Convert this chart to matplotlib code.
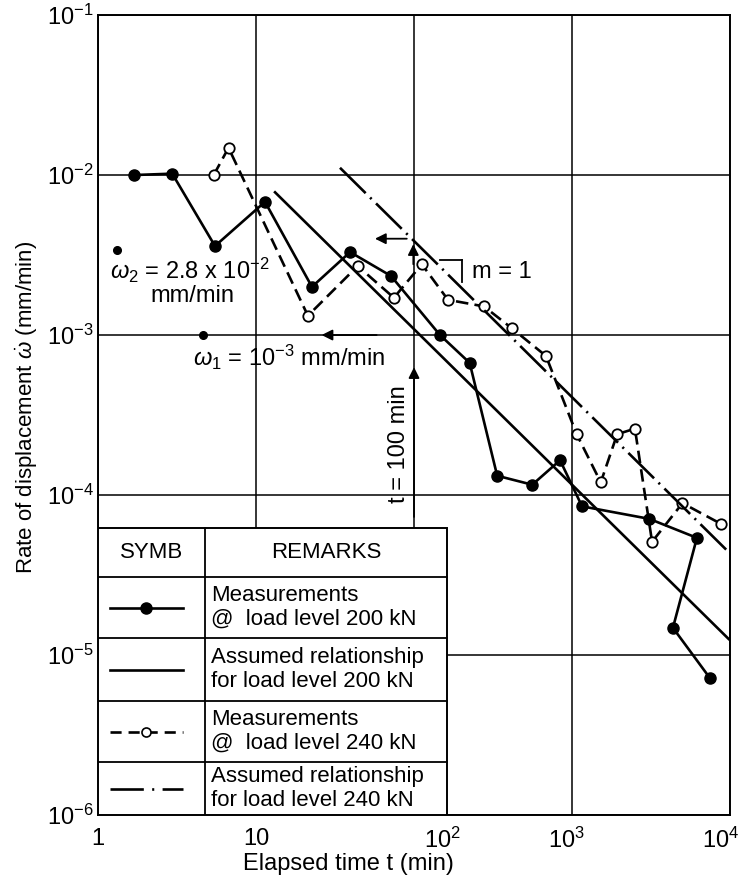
import matplotlib
matplotlib.use("Agg")
import matplotlib.pyplot as plt
import matplotlib.transforms as mtransforms
from matplotlib.patches import Rectangle

plt.rcParams['font.family'] = ['Liberation Sans', 'DejaVu Sans']
plt.rcParams['mathtext.fontset'] = 'custom'
plt.rcParams['mathtext.rm'] = 'Liberation Sans'
plt.rcParams['mathtext.it'] = 'Liberation Sans:italic'
plt.rcParams['lines.scale_dashes'] = False

# measurements @ 200 kN (filled dots)
t_200 = [1.7, 2.95, 5.5, 11.4, 22.6, 39.4, 71.5, 146, 225, 336, 560, 840, 1157, 3080, 6170, 4350, 7440]
r_200 = [0.0100, 0.0102, 0.0036, 0.0068, 0.0020, 0.0033, 0.00234, 0.00100, 0.00067, 0.000132,
         0.000116, 0.000165, 0.000085, 0.000071, 0.000054, 0.0000148, 0.0000072]

# measurements @ 240 kN (open circles)
t_240 = [5.4, 6.7, 21.3, 44, 74.6, 112, 164, 277, 417, 684, 1070, 1520, 1930, 2500, 3210, 5000, 8770]
r_240 = [0.0100, 0.0148, 0.00132, 0.0027, 0.00171, 0.00277, 0.00166, 0.00151, 0.0011, 0.00074,
         0.00024, 0.00012, 0.00024, 0.00026, 0.000051, 0.000089, 0.000066]

# assumed relationships (m = 1)
t_fit200 = [13.2, 9800]
r_fit200 = [0.0078, 0.0000126]
t_fit240 = [34, 9800]
r_fit240 = [0.0111, 0.000044]

x_ticks = [1, 10, 100, 1000, 10000]
x_labels = ['1', '10', r'$\mathregular{10^2}$', r'$\mathregular{10^3}$', r'$\mathregular{10^4}$']
y_ticks = [1e-6, 1e-5, 1e-4, 1e-3, 1e-2, 1e-1]
y_labels = [r'$\mathregular{10^{-%d}}$' % k for k in [6, 5, 4, 3, 2, 1]]

table_rows = [
    'Measurements\n@  load level 200 kN',
    'Assumed relationship\nfor load level 200 kN',
    'Measurements\n@  load level 240 kN',
    'Assumed relationship\nfor load level 240 kN',
]

fig = plt.figure(figsize=(7.48, 8.84), dpi=100)
ax = fig.add_axes([0.131, 0.078, 0.845, 0.905])
ax.set_xscale('log')
ax.set_yscale('log')
ax.set_xlim(1, 1e4)
ax.set_ylim(1e-6, 1e-1)
ax.set_xticks(x_ticks)
ax.set_xticklabels(x_labels)
ax.set_yticks(y_ticks)
ax.set_yticklabels(y_labels)
ax.minorticks_off()
ax.tick_params(length=0, labelsize=17, pad=9)
ax.tick_params(axis='y', pad=3)
ax.grid(True, color='black', lw=1.1)
for s in ax.spines.values():
    s.set_linewidth(1.4)

# the printed x labels sit a little off their gridlines
for lab, dx in zip(ax.get_xticklabels(), [0, 0, 28, -6, -9]):
    lab.set_transform(lab.get_transform() + mtransforms.ScaledTranslation(dx / 100, 0, fig.dpi_scale_trans))

lw = 1.9
dash = (0, (9, 4.5))
dashdot = (0, (26, 4.5, 1.5, 4.5))

ax.plot(t_200, r_200, '-', color='black', lw=lw, marker='o', ms=8, mfc='black', mec='black', zorder=3)
ax.plot(t_240, r_240, linestyle=dash, color='black', lw=lw, marker='o', ms=7.5, mfc='white',
        mec='black', mew=1.3, zorder=3)
ax.plot(t_fit200, r_fit200, '-', color='black', lw=lw, zorder=3)
ax.plot(t_fit240, r_fit240, linestyle=dashdot, color='black', lw=lw, zorder=3)

# arrows marking the two reference rates at t = 100 min
arr = dict(arrowstyle='-|>', color='black', lw=1.3, mutation_scale=16, shrinkA=0, shrinkB=0)
ax.annotate('', xy=(26, 1e-3), xytext=(58, 1e-3), arrowprops=arr)
ax.annotate('', xy=(100, 6.3e-4), xytext=(100, 7.3e-5), arrowprops=arr)
ax.annotate('', xy=(56.6, 4.0e-3), xytext=(90, 4.0e-3), arrowprops=arr)
ax.annotate('', xy=(99, 3.7e-3), xytext=(99, 2.77e-3), arrowprops=arr)

# slope bracket
ax.plot([146, 201], [2.96e-3, 2.96e-3], color='black', lw=1.3)
ax.plot([201, 201], [2.96e-3, 2.14e-3], color='black', lw=1.3)
ax.text(233, 2.47e-3, 'm = 1', fontsize=17, va='center', ha='left')

# rate labels, with the big "dot" accents drawn as markers
ax.text(1.19, 2.54e-3, r'$\omega_2$ = 2.8 x 10$^{-2}$', fontsize=17, va='center', ha='left')
ax.plot([1.32], [3.4e-3], 'o', color='black', ms=5.5)
ax.text(3.94, 1.76e-3, 'mm/min', fontsize=17, va='center', ha='center')
ax.text(3.99, 7.2e-4, r'$\omega_1$ = 10$^{-3}$ mm/min', fontsize=17, va='center', ha='left')
ax.plot([4.65], [1.0e-3], 'o', color='black', ms=5.5)
ax.text(80, 2.09e-4, 't = 100 min', fontsize=17, va='center', ha='center', rotation=90)

ax.set_xlabel('Elapsed time t (min)', fontsize=17)
ax.set_ylabel(r'Rate of displacement $\dot{\omega}$ (mm/min)', fontsize=16)
ax.xaxis.set_label_coords(0.396, -0.048)
ax.yaxis.set_label_coords(-0.092, 0.51)

# legend table drawn inside the axes
tx0, tx1, tx2 = 0.0, 0.169, 0.552
row_y = [0.359, 0.2975, 0.221, 0.1425, 0.066, 0.0]
tr = ax.transAxes
ax.add_patch(Rectangle((tx0, 0), tx2 - tx0, row_y[0], transform=tr, facecolor='white',
                       edgecolor='black', lw=1.4, zorder=5))
for y in row_y[1:-1]:
    ax.plot([tx0, tx2], [y, y], transform=tr, color='black', lw=1.3, zorder=6)
ax.plot([tx1, tx1], [0, row_y[0]], transform=tr, color='black', lw=1.3, zorder=6)
ax.text((tx0 + tx1) / 2, (row_y[0] + row_y[1]) / 2, 'SYMB', transform=tr, fontsize=16,
        ha='center', va='center', zorder=7)
ax.text((tx1 + tx2) / 2, (row_y[0] + row_y[1]) / 2, 'REMARKS', transform=tr, fontsize=16,
        ha='center', va='center', zorder=7)

sx = [0.019, 0.134]
styles = ['-', '-', (0, (8, 5)), (0, (24, 6, 1.5, 6))]
for i, label in enumerate(table_rows):
    yc = (row_y[i + 1] + row_y[i + 2]) / 2
    ax.plot(sx, [yc, yc], transform=tr, color='black', lw=lw, zorder=7, linestyle=styles[i])
    if i == 0:
        ax.plot([(sx[0] + sx[1]) / 2], [yc], transform=tr, marker='o', ms=8, color='black', zorder=8)
    if i == 2:
        ax.plot([(sx[0] + sx[1]) / 2], [yc], transform=tr, marker='o', ms=6.5, mfc='white',
                mec='black', mew=1.2, zorder=8, linestyle='none')
    ax.text(0.179, yc, label, transform=tr, fontsize=16, ha='left', va='center',
            linespacing=1.15, zorder=7)

fig.savefig('out.png', dpi=100)
